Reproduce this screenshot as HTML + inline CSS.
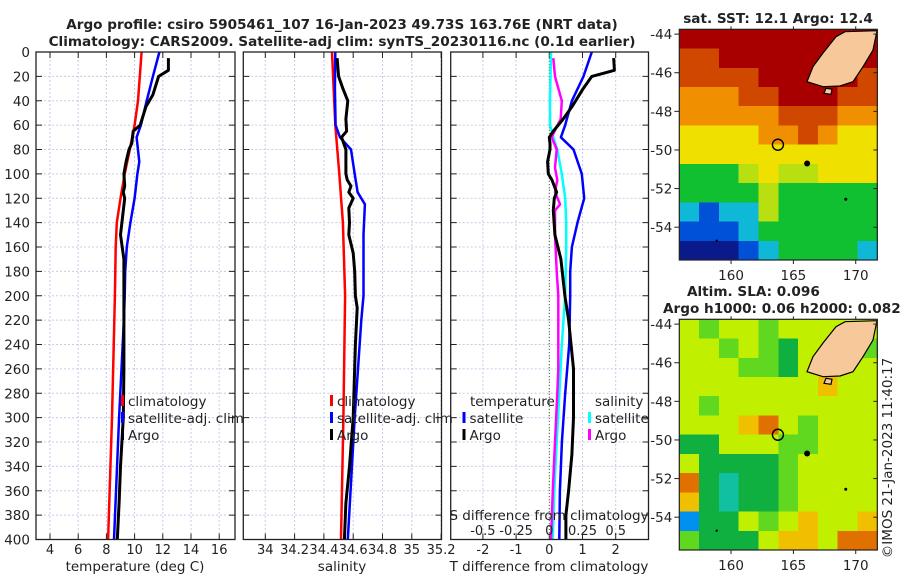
<!DOCTYPE html>
<html><head><meta charset="utf-8"><style>
body{margin:0;background:#fff;width:900px;height:580px;overflow:hidden}
svg text{font-family:"DejaVu Sans","Liberation Sans",sans-serif;fill:#222}
</style></head><body>
<svg id="fig" width="900" height="580" viewBox="0 0 900 580" xmlns="http://www.w3.org/2000/svg">
<text x="342" y="29" font-size="13.6" font-weight="bold" text-anchor="middle" fill="#000">Argo profile: csiro 5905461_107 16-Jan-2023 49.73S 163.76E (NRT data)</text>
<text x="342" y="46" font-size="13.6" font-weight="bold" text-anchor="middle" fill="#000">Climatology: CARS2009. Satellite-adj clim: synTS_20230116.nc (0.1d earlier)</text>
<g id="plots"></g>
</svg>
<script>
// ---- data ----
const tClimDepth=[0,40,60,80,100,120,140,160,200,300,400];
const tClimVal=[10.5,10.24,10.0,9.66,9.3,9.0,8.74,8.66,8.6,8.4,8.12];
const tSatDepth=[0,20,40,60,70,90,100,120,140,160,180,200,220,300,400];
const tSatVal=[11.76,11.3,10.86,10.45,10.14,10.33,10.2,10.0,9.7,9.45,9.33,9.3,9.24,8.9,8.54];
const tArgoDepth=[5,15,20,35,45,60,65,75,80,90,100,110,115,120,130,150,170,200,260,300,340,370,400];
const tArgoVal=[12.4,12.4,11.7,11.3,10.8,10.4,9.9,9.8,9.6,9.4,9.24,9.3,9.2,9.3,9.2,9.0,9.24,9.24,9.24,9.2,9.0,8.9,8.77];
const sClimDepth=[0,60,100,140,200,300,400];
const sClimVal=[34.455,34.478,34.505,34.53,34.545,34.533,34.517];
const sSatDepth=[0,30,60,70,80,100,115,125,150,200,220,300,400];
const sSatVal=[34.478,34.475,34.48,34.51,34.585,34.61,34.63,34.68,34.67,34.67,34.655,34.61,34.563];
const sArgoDepth=[5,20,30,40,55,65,70,80,100,105,110,115,120,128,140,150,165,180,200,210,240,300,340,370,400];
const sArgoVal=[34.49,34.5,34.53,34.563,34.55,34.555,34.52,34.55,34.55,34.56,34.585,34.57,34.6,34.57,34.575,34.57,34.6,34.61,34.615,34.627,34.615,34.6,34.575,34.55,34.54];
const dTSatDepth=[0,20,40,60,70,80,100,120,140,160,180,200,240,280,320,360,400];
const dTSatVal=[1.28,1.03,0.68,0.48,0.35,0.73,0.98,1.05,0.85,0.68,0.63,0.63,0.6,0.48,0.38,0.32,0.3];
const dTArgoDepth=[5,15,20,30,45,55,65,70,75,80,90,100,105,115,120,130,150,170,200,220,260,300,330,360,380,400];
const dTArgoVal=[1.94,1.96,1.28,1.02,0.68,0.42,0.12,0,0.02,0.02,-0.05,-0.03,0.08,0.22,0.15,0.12,0.17,0.35,0.47,0.58,0.73,0.73,0.68,0.58,0.5,0.5];
const dSSatDepth=[0,40,60,70,80,100,120,140,160,200,240,280,320,360,400];
const dSSatVal=[0.013,0.005,0.005,0.03,0.06,0.094,0.12,0.127,0.127,0.12,0.094,0.076,0.056,0.038,0.026];
const dSArgoDepth=[5,20,40,55,65,70,80,95,105,115,125,130,150,180,200,220,260,280,320,360,400];
const dSArgoVal=[0.03,0.043,0.094,0.086,0.04,0.018,0.056,0.043,0.06,0.043,0.081,0.043,0.043,0.056,0.068,0.068,0.068,0.06,0.043,0.026,0.013];
const depthTicks=[0,20,40,60,80,100,120,140,160,180,200,220,240,260,280,300,320,340,360,380,400];
const tTicks=[4,6,8,10,12,14,16];
const sTicks=[34,34.2,34.4,34.6,34.8,35,35.2];
const dTTicks=[-2,-1,0,1,2];
const dSTicks=[-0.5,-0.25,0,0.25,0.5];
const latTicks=[-44,-46,-48,-50,-52,-54];
const lonTicks=[160,165,170];
const sstGrid=[
[7,7,7,7,7,7,7,7,7,7],
[6.5,6.5,7,7,7,7,7,7,7,7],
[6,6,6.5,6.5,7,7,7,7,7,6.5],
[5.5,5,5.5,6,6.5,7,7,7,6.5,6],
[5,5,5,5.5,5.5,6.5,6.5,6,5.5,5],
[4.5,4.5,4.5,4.5,5,5.5,6,5,4.5,4.5],
[4,4,4,4,4.5,4.5,4.5,4.5,4.5,4.5],
[3,3,3,3.5,4,3.5,3.5,4,4,4],
[2.5,2.5,2.5,2.5,3.5,3,3,3,3,3],
[1.5,1,1.5,2,3.5,3,3,3,3,2.5],
[0.5,0.5,1,1.5,3,3,3,2.5,2.5,2.5],
[0,0,0,0.5,2,3,2.5,2.5,2.5,2]];
const slaGrid=[
[4,3,4,4,3,4,4,4,4,4],
[4,4,3,4,3,2,4,4,4,3],
[4,4,4,3,3,2,4,4,4,4],
[4,4,4,4,4,4,4,5,4,4],
[4,3,4,4,4,4,4,4,4,4],
[4,4,4,5,6,4,3,4,4,4],
[2,2,4,4,4,3,3,4,4,4],
[4,2,2,2,2,3,4,4,4,4],
[6,2,1,2,2,3,4,4,4,4],
[5,2,1,2,2,3,4,4,4,4],
[0,2,2,4,3,4,5,4,4,5],
[3,2,2,2,4,5,5,4,6,6]];
const argoLon=163.76, argoLat=-49.73;

// ---- helpers ----
const NS='http://www.w3.org/2000/svg';
const root=document.getElementById('plots');
function mk(tag,attrs,parent){const e=document.createElementNS(NS,tag);for(const k in attrs)e.setAttribute(k,attrs[k]);(parent||root).appendChild(e);return e;}
function txt(x,y,s,size,anchor,parent){const t=mk('text',{x:x,y:y,'font-size':size,'text-anchor':anchor||'middle'},parent);t.textContent=s;return t;}
const Y0=52,Y1=539.5;
const yD=d=>Y0+d*(Y1-Y0)/400;

function panel(name,x0,x1,xf,ticks,labelFmt,gridTicks){
  const g=mk('g',{});
  
  
  gridTicks.forEach(v=>{const gl=mk('line',{x1:xf(v),x2:xf(v),y1:Y0,y2:Y1,stroke:'#c9cbe8','stroke-width':1,'stroke-dasharray':'2,2'},g);
    
    });
  depthTicks.forEach(d=>{const gl=mk('line',{x1:x0,x2:x1,y1:yD(d),y2:yD(d),stroke:'#c9cbe8','stroke-width':1,'stroke-dasharray':'2,2'},g);
    
    
    mk('line',{x1:x0,x2:x0+6,y1:yD(d),y2:yD(d),stroke:'#222'},g);
    mk('line',{x1:x1-6,x2:x1,y1:yD(d),y2:yD(d),stroke:'#222'},g);});
  ticks.forEach(v=>{mk('line',{x1:xf(v),x2:xf(v),y1:Y1,y2:Y1-6,stroke:'#222'},g);mk('line',{x1:xf(v),x2:xf(v),y1:Y0,y2:Y0+6,stroke:'#222'},g);
    const t=txt(xf(v),554,labelFmt(v),13,'middle',g);
    
    });
  return g;
}
function frame(g,x0,x1){const r=mk('rect',{x:x0,y:Y0,width:x1-x0,height:Y1-Y0,fill:'none',stroke:'#222','stroke-width':1.3},g);
  
  }
function line(g,xf,depths,vals,color,w,name){
  const pts=depths.map((d,i)=>xf(vals[i]).toFixed(1)+','+yD(d).toFixed(1)).join(' ');
  const p=mk('polyline',{points:pts,fill:'none',stroke:color,'stroke-width':w,'stroke-linejoin':'round'},g);
  
  
}
function legend(g,x,y,color,label,name){
  const r=mk('rect',{x:x,y:y-11,width:3,height:11,fill:color},g);
  const t=txt(x+7,y,label,13.5,'start',g);
  
  
}

// panel 1 temperature
const P1=[36,235], xT=v=>50+(v-4)*14.1;
const g1=panel('temperature-panel',P1[0],P1[1],xT,tTicks,v=>String(v),tTicks);
depthTicks.forEach(d=>{const t=txt(30,yD(d)+5,String(d),13.5,'end',g1);
  
  });
line(g1,xT,tClimDepth,tClimVal,'#ff0000',2.5,'temp-climatology-line');
line(g1,xT,tSatDepth,tSatVal,'#0000ff',2.5,'temp-satellite-line');
line(g1,xT,tArgoDepth,tArgoVal,'#000',3,'temp-argo-line');
legend(g1,121,406,'#ff0000','climatology','legend-climatology');
legend(g1,121,423,'#0000ff','satellite-adj. clim','legend-satellite-adj');
legend(g1,121,440,'#000','Argo','legend-argo');
frame(g1,P1[0],P1[1]);
{const t=txt(135,571,'temperature (deg C)',13.5,'middle',g1);}

// panel 2 salinity
const P2=[243.3,441.5], xS=v=>265.3+(v-34)*146.5;
const g2=panel('salinity-panel',P2[0],P2[1],xS,sTicks,v=>String(v),sTicks);
line(g2,xS,sClimDepth,sClimVal,'#ff0000',2.5,'sal-climatology-line');
line(g2,xS,sSatDepth,sSatVal,'#0000ff',2.5,'sal-satellite-line');
line(g2,xS,sArgoDepth,sArgoVal,'#000',3,'sal-argo-line');
legend(g2,330,406,'#ff0000','climatology','legend-climatology-2');
legend(g2,330,423,'#0000ff','satellite-adj. clim','legend-satellite-adj-2');
legend(g2,330,440,'#000','Argo','legend-argo-2');
frame(g2,P2[0],P2[1]);
{const t=txt(342,571,'salinity',13.5,'middle',g2);}

// panel 3 differences
const P3=[450.7,648.5], xDT=v=>549.3+v*33.2, xDS=v=>549.3+v*132.8;
const g3=panel('difference-panel',P3[0],P3[1],xDT,dTTicks,v=>String(v),dTTicks);
{const z=mk('line',{x1:xDT(0),x2:xDT(0),y1:Y0,y2:Y1,stroke:'#556b2f','stroke-width':1,'stroke-dasharray':'1,2'},g3);}
line(g3,xDS,dSSatDepth,dSSatVal,'#00ffff',2.5,'sdiff-satellite-line');
line(g3,xDS,dSArgoDepth,dSArgoVal,'#ff00ff',2.5,'sdiff-argo-line');
line(g3,xDT,dTSatDepth,dTSatVal,'#0000ff',2.5,'tdiff-satellite-line');
line(g3,xDT,dTArgoDepth,dTArgoVal,'#000',3,'tdiff-argo-line');
{const t=txt(470,406,'temperature',13.5,'start',g3);}
legend(g3,462.5,423,'#0000ff','satellite','legend-t-satellite');
legend(g3,462.5,440,'#000','Argo','legend-t-argo');
{const t=txt(595,406,'salinity',13.5,'start',g3);}
legend(g3,588,423,'#00ffff','satellite','legend-s-satellite');
legend(g3,588,440,'#ff00ff','Argo','legend-s-argo');
{const t=txt(549,520,'S difference from climatology',13.5,'middle',g3);}
dSTicks.forEach(v=>{const t=txt(xDS(v),535,String(v),13,'middle',g3);});
{const t=txt(549,571,'T difference from climatology',13.5,'middle',g3);}
frame(g3,P3[0],P3[1]);

// maps
const MX0=679.3,MX1=877.3,LON0=155.85,LON1=171.73,LAT0=-43.75,LAT1=-55.7;
const sstCols=['#0a1a8a','#0050d8','#10b8d8','#10c030','#b8e010','#f0e000','#f09000','#d04800','#a80000'];
const slaCols=['#0090f0','#10c0a0','#10b040','#60d820','#c0f000','#f0c000','#e07000'];
function colAt(cols,v,max){const f=v/max*(cols.length-1);return cols[Math.round(f)];}
function map(name,top,grid,cols,max){
  const g=mk('g',{});
  
  
  const bot=top+230.7;
  const xL=l=>MX0+(l-LON0)*(MX1-MX0)/(LON1-LON0);
  const yL=l=>top+(l-LAT0)*(bot-top)/(LAT1-LAT0);
  const rows=grid.length, cw=(MX1-MX0)/grid[0].length, rh=(bot-top)/rows;
  grid.forEach((row,r)=>row.forEach((v,c)=>{
    const cell=mk('rect',{x:MX0+c*cw,y:top+r*rh,width:cw+0.6,height:rh+0.6,fill:colAt(cols,v,max),'shape-rendering':'crispEdges'},g);
    
    
  }));
  const land=mk('path',{d:`M845,${top+2.4} L877,${top+1.4} L873,${top+20.7} L863,${top+37.4} L853,${top+52.4} L840,${top+56.7} L823,${top+57.4} L807,${top+52.4} L813,${top+37.4} L823,${top+23.7} L836,${top+7.4} Z M826,${top+59} L832,${top+60} L831,${top+65} L824,${top+64} Z`,fill:'#f7c99a',stroke:'#000','stroke-width':1.2},g);
  
  
  [[166.1,-50.7,3],[169.2,-52.55,1.5],[158.85,-54.7,1.2]].forEach(p=>{mk('circle',{cx:xL(p[0]),cy:yL(p[1]),r:p[2],fill:'#000'},g);});
  const circ=mk('circle',{cx:xL(argoLon),cy:yL(argoLat),r:5.5,fill:'none',stroke:'#000','stroke-width':1.4},g);
  
  
  mk('rect',{x:MX0,y:top,width:MX1-MX0,height:bot-top,fill:'none',stroke:'#222','stroke-width':1.2},g);
  latTicks.forEach(l=>{mk('line',{x1:MX0,x2:MX0-5,y1:yL(l),y2:yL(l),stroke:'#222'},g);mk('line',{x1:MX1,x2:MX1-4,y1:yL(l),y2:yL(l),stroke:'#222'},g);
    const t=txt(MX0-7,yL(l)+5,String(l),13.5,'end',g);
    
    });
  lonTicks.forEach(l=>{mk('line',{x1:xL(l),x2:xL(l),y1:bot,y2:bot+4,stroke:'#222'},g);mk('line',{x1:xL(l),x2:xL(l),y1:top,y2:top-3,stroke:'#222'},g);
    const t=txt(xL(l),bot+20,String(l),13.5,'middle',g);
    
    });
  return g;
}
map('sst-map',29.3,sstGrid,sstCols,7);
map('sla-map',319.3,slaGrid,slaCols,6);
{const t=txt(778,23,'sat. SST: 12.1 Argo: 12.4',13.6,'middle');t.setAttribute('font-weight','bold');t.setAttribute('fill','#000');}
{const t=txt(687,296,'Altim. SLA: 0.096',13.6,'start');t.setAttribute('font-weight','bold');t.setAttribute('fill','#000');}
{const t=txt(663,313,'Argo h1000: 0.06 h2000: 0.082',13.6,'start');t.setAttribute('font-weight','bold');t.setAttribute('fill','#000');}
{const t=txt(0,0,'©IMOS 21-Jan-2023 11:40:17',13.5,'middle');t.setAttribute('transform','translate(892,458) rotate(-90)');}
</script>
</body></html>
